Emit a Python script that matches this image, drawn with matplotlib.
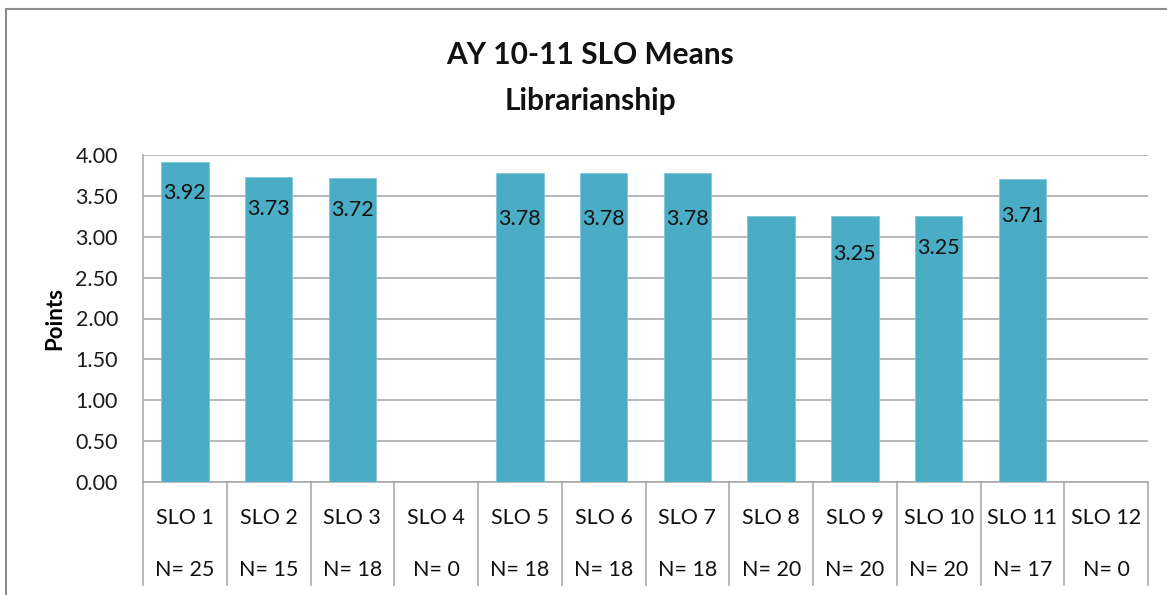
import matplotlib
matplotlib.use("Agg")
import matplotlib.pyplot as plt
from matplotlib.patches import Rectangle
import matplotlib.transforms as mtransforms

categories = ["SLO 1", "SLO 2", "SLO 3", "SLO 4", "SLO 5", "SLO 6", "SLO 7",
              "SLO 8", "SLO 9", "SLO 10", "SLO 11", "SLO 12"]
n_counts = [25, 15, 18, 0, 18, 18, 18, 20, 20, 20, 17, 0]
means = [3.92, 3.73, 3.72, 0, 3.78, 3.78, 3.78, 3.25, 3.25, 3.25, 3.71, 0]
# which bars show a data label (SLO 8 has none in the original)
show_label = [True, True, True, False, True, True, True, False, True, True, True, False]
# label offset below bar top, in points
label_offset_pts = [-23, -23, -23, 0, -33, -33, -33, 0, -27, -23, -27, 0]
y_ticks = [0.0, 0.5, 1.0, 1.5, 2.0, 2.5, 3.0, 3.5, 4.0]

plt.rcParams['font.family'] = ['Lato', 'DejaVu Sans']

W, H = 1167, 595
fig = plt.figure(figsize=(W / 100, H / 100), dpi=100)

# outer chart border
fig.patches.append(Rectangle((6 / W, -0.1), 1.2, 1 - 9 / H + 0.1, transform=fig.transFigure,
                             fill=False, edgecolor="#8c8c8c", linewidth=1.5))

left, right, top, bottom = 143, 1148, 155, 482
ax = fig.add_axes([left / W, 1 - bottom / H, (right - left) / W, (bottom - top) / H])

x = list(range(len(categories)))
bars = ax.bar(x, means, width=0.57, color="#4BACC6", edgecolor="#7fc6d8", linewidth=0.6, zorder=3)

ax.set_xlim(-0.5, len(categories) - 0.5)
ax.set_ylim(0, 4.0)
ax.set_yticks(y_ticks)
ax.set_yticklabels([f"{v:.2f}" for v in y_ticks], fontsize=15.5, color="#1a1a1a")
ax.tick_params(axis="y", length=0, pad=18)
ax.set_xticks([])
ax.yaxis.grid(True, color="#ababab", linewidth=1.2, zorder=0)
ax.set_axisbelow(True)
for s in ["top", "right"]:
    ax.spines[s].set_visible(False)
for s in ["left", "bottom"]:
    ax.spines[s].set_color("#ababab")
    ax.spines[s].set_linewidth(1.2)

# data labels
for xi, v, show, off in zip(x, means, show_label, label_offset_pts):
    if show:
        ax.annotate(f"{v:.2f}", xy=(xi, v), xytext=(0, off), textcoords="offset points",
                    ha="center", va="center", fontsize=15.5, color="#111111", zorder=4)

# category table below the axis
trans = mtransforms.blended_transform_factory(ax.transData, ax.transAxes)
sep_bottom = -(585 - bottom) / (bottom - top)
for b in range(len(categories) + 1):
    ax.plot([b - 0.5, b - 0.5], [0, sep_bottom], transform=trans, color="#ababab",
            linewidth=1.2, clip_on=False)
row1 = -(518 - bottom) / (bottom - top)
row2 = -(570 - bottom) / (bottom - top)
for xi, c, n in zip(x, categories, n_counts):
    ax.text(xi, row1, c, transform=trans, ha="center", va="center", fontsize=15.5, color="#111111")
    ax.text(xi, row2, f"N= {n}", transform=trans, ha="center", va="center", fontsize=15.5, color="#111111")

ax.set_ylabel("Points", fontsize=16, fontweight="bold", labelpad=7)

fig.text(590 / W, 1 - 55 / H, "AY 10-11 SLO Means", ha="center", va="center",
         fontsize=21.5, fontweight="bold", color="#111111")
fig.text(590 / W, 1 - 101 / H, "Librarianship", ha="center", va="center",
         fontsize=21.5, fontweight="bold", color="#111111")

fig.savefig("out.png", dpi=100)
